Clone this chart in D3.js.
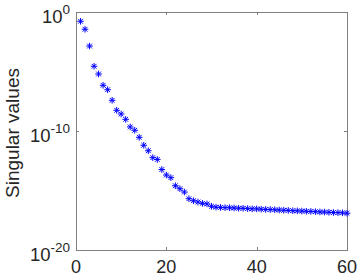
<!DOCTYPE html>
<html><head><meta charset="utf-8">
<script src="https://cdn.jsdelivr.net/npm/d3@7/dist/d3.min.js"></script>
<style>html,body{margin:0;padding:0;background:#fff;}</style>
</head><body>
<svg id="c" width="360" height="277"></svg>
<script>
const indices = d3.range(1, 61);
const singularValues = [
  1.66e-1, 3.55e-2, 1.38e-3, 2.75e-5, 6.17e-6, 6.92e-7, 2.95e-7, 3.80e-8, 5.50e-9, 2.69e-9,
  9.55e-10, 2.19e-10, 1.15e-10, 2.95e-11, 6.31e-12, 2.19e-12, 5.75e-13, 4.07e-13, 5.75e-14, 2.00e-14,
  1.20e-14, 2.51e-15, 1.41e-15, 7.41e-16, 2.04e-16, 1.38e-16, 1.07e-16, 8.32e-17, 7.41e-17, 4.68e-17,
  3.98e-17, 3.80e-17, 3.63e-17, 3.55e-17, 3.39e-17, 3.24e-17, 3.20e-17, 3.02e-17, 2.88e-17, 2.85e-17,
  2.69e-17, 2.57e-17, 2.50e-17, 2.40e-17, 2.29e-17, 2.19e-17, 2.12e-17, 2.00e-17, 1.95e-17, 1.86e-17,
  1.80e-17, 1.74e-17, 1.66e-17, 1.58e-17, 1.55e-17, 1.48e-17, 1.41e-17, 1.38e-17, 1.32e-17, 1.23e-17
];
const xTicks = [0, 20, 40, 60];
const yTickExponents = [0, -10, -20];
const yLabel = "Singular values";

const svg = d3.select("#c");
const L = 76, R = 347, T = 12, B = 250;
const x = d3.scaleLinear().domain([0, 60]).range([L, R]);
const y = d3.scaleLog().domain([1e-20, 1e0]).range([B, T]);
const axisCol = "#808080", textCol = "#262626";
const font = "'Liberation Sans', Arial, Helvetica, sans-serif";

// box
svg.append("rect").attr("x", L).attr("y", T).attr("width", R - L).attr("height", B - T)
  .attr("fill", "none").attr("stroke", axisCol).attr("stroke-width", 1).attr("shape-rendering", "crispEdges");

// ticks (inward)
const tl = 3;
xTicks.forEach(t => {
  const px = Math.round(x(t)) + 0.5;
  svg.append("line").attr("x1", px).attr("x2", px).attr("y1", B).attr("y2", B - tl).attr("stroke", axisCol);
  svg.append("line").attr("x1", px).attr("x2", px).attr("y1", T).attr("y2", T + tl).attr("stroke", axisCol);
  svg.append("text").attr("x", x(t)).attr("y", B + 23).attr("text-anchor", "middle")
    .attr("font-family", font).attr("font-size", 18).attr("fill", textCol).text(t);
});
yTickExponents.forEach(e => {
  const py = Math.round(y(Math.pow(10, e))) + 0.5;
  svg.append("line").attr("x1", L).attr("x2", L + tl).attr("y1", py).attr("y2", py).attr("stroke", axisCol);
  svg.append("line").attr("x1", R).attr("x2", R - tl).attr("y1", py).attr("y2", py).attr("stroke", axisCol);
  const t = svg.append("text").attr("x", L - 6).attr("y", y(Math.pow(10, e)) + 10.5).attr("text-anchor", "end")
    .attr("font-family", font).attr("font-size", 18.5).attr("fill", textCol);
  t.append("tspan").text("10");
  t.append("tspan").attr("dy", -9).attr("font-size", 13.5).text(String(e));
});

// y label
svg.append("text").attr("transform", `translate(19,133) rotate(-90)`)
  .attr("text-anchor", "middle").attr("font-family", font).attr("font-size", 19)
  .attr("fill", textCol).text(yLabel);

// markers '*'
const s = 3.3;
const star = `M${-s},0L${s},0M0,${-s}L0,${s}M${-s*0.72},${-s*0.72}L${s*0.72},${s*0.72}M${-s*0.72},${s*0.72}L${s*0.72},${-s*0.72}`;
svg.append("g").selectAll("path").data(indices).join("path")
  .attr("transform", (d, i) => `translate(${x(d)},${y(singularValues[i])})`)
  .attr("d", star).attr("fill", "none").attr("stroke", "#0000ff").attr("stroke-width", 1);
</script>
</body></html>
